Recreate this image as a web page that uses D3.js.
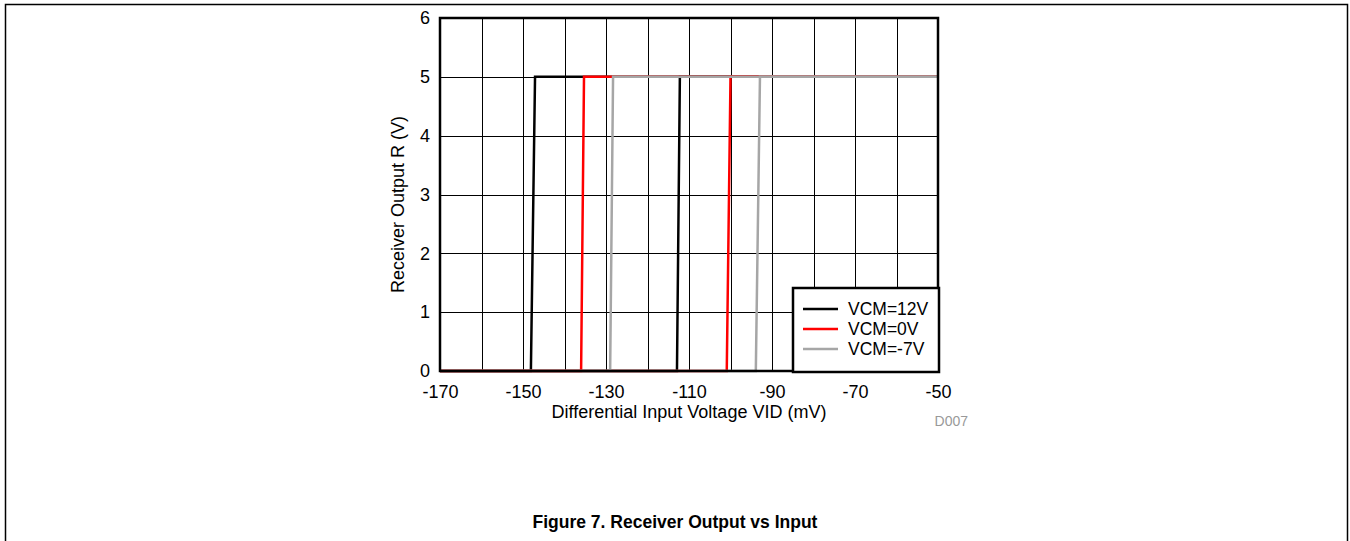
<!DOCTYPE html>
<html>
<head>
<meta charset="utf-8">
<script src="https://cdn.jsdelivr.net/npm/d3@7"></script>
<style>
  body { margin: 0; background: #fff; }
  svg { display: block; font-family: Arial, "Liberation Sans", sans-serif; }
</style>
</head>
<body>
<div id="chart"></div>
<script>
// x ticks (mV) and y ticks (V)
var xTicks = [-170, -150, -130, -110, -90, -70, -50];
var xGrid = d3.range(-170, -49, 10);
var yTicks = [0, 1, 2, 3, 4, 5, 6];

var seriesNames = ["VCM=12V", "VCM=0V", "VCM=-7V"];
var seriesColors = ["#000000", "#ff0000", "#a6a6a6"];

// each series: falling branch and rising branch (hysteresis sweep)
var vcm12Down = [[-170, 0], [-148.1, 0], [-147.1, 5], [-50, 5]];
var vcm12Up = [[-170, 0], [-112.9, 0], [-112.2, 5], [-50, 5]];
var vcm0Down = [[-170, 0], [-136.0, 0], [-135.3, 5], [-50, 5]];
var vcm0Up = [[-170, 0], [-100.9, 0], [-100.0, 5], [-50, 5]];
var vcm7Down = [[-170, 0], [-129.0, 0], [-128.3, 5], [-50, 5]];
var vcm7Up = [[-170, 0], [-93.9, 0], [-92.9, 5], [-50, 5]];

var series = [
  {name: seriesNames[0], color: seriesColors[0], branches: [vcm12Down, vcm12Up]},
  {name: seriesNames[1], color: seriesColors[1], branches: [vcm0Down, vcm0Up]},
  {name: seriesNames[2], color: seriesColors[2], branches: [vcm7Down, vcm7Up]}
];

var W = 1350, H = 541;
var margin = {top: 18, left: 440},
    width = 498,
    height = 353;

var svg = d3.select("#chart").append("svg")
  .attr("width", W)
  .attr("height", H);

// page frame
svg.append("path")
  .attr("d", "M5.5,541 L5.5,4.5 L1347.5,4.5 L1347.5,541")
  .attr("fill", "none")
  .attr("stroke", "#000")
  .attr("stroke-width", 1.5);

var g = svg.append("g")
  .attr("transform", "translate(" + margin.left + "," + margin.top + ")");

var xScale = d3.scaleLinear().domain([-170, -50]).range([0, width]);
var yScale = d3.scaleLinear().domain([0, 6]).range([height, 0]);

// grid
g.append("g")
  .selectAll("line")
  .data(xGrid)
  .enter()
  .append("line")
    .attr("x1", function (d) { return Math.round(xScale(d)) + 0.5; })
    .attr("x2", function (d) { return Math.round(xScale(d)) + 0.5; })
    .attr("y1", 0)
    .attr("y2", height)
    .attr("stroke", "#000")
    .attr("stroke-width", 1);

g.append("g")
  .selectAll("line")
  .data(yTicks)
  .enter()
  .append("line")
    .attr("x1", 0)
    .attr("x2", width)
    .attr("y1", function (d) { return Math.round(yScale(d)) + 0.5; })
    .attr("y2", function (d) { return Math.round(yScale(d)) + 0.5; })
    .attr("stroke", "#000")
    .attr("stroke-width", 1);

// data lines
var line = d3.line()
  .x(function (d) { return xScale(d[0]); })
  .y(function (d) { return yScale(d[1]); });

series.forEach(function (s) {
  g.append("g")
    .selectAll("path")
    .data(s.branches)
    .enter()
    .append("path")
      .attr("d", line)
      .attr("fill", "none")
      .attr("stroke", s.color)
      .attr("stroke-width", 2.5);
});

// plot frame
g.append("rect")
  .attr("x", 0)
  .attr("y", 0)
  .attr("width", width)
  .attr("height", height)
  .attr("fill", "none")
  .attr("stroke", "#000")
  .attr("stroke-width", 2.5);

// axes (labels only), plain hyphen for negatives
var fmt = function (d) { return String(d); };

var xAxis = g.append("g")
  .attr("transform", "translate(0," + height + ")")
  .call(d3.axisBottom(xScale).tickValues(xTicks).tickSize(0).tickPadding(14).tickFormat(fmt));
xAxis.select(".domain").remove();
xAxis.selectAll("text").attr("font-size", 18).attr("fill", "#000").attr("font-family", "Arial, 'Liberation Sans', sans-serif");

var yAxis = g.append("g")
  .call(d3.axisLeft(yScale).tickValues(yTicks).tickSize(0).tickPadding(10).tickFormat(fmt));
yAxis.select(".domain").remove();
yAxis.selectAll("text").attr("font-size", 18).attr("fill", "#000").attr("font-family", "Arial, 'Liberation Sans', sans-serif");

// axis titles
svg.append("text")
  .attr("x", margin.left + width / 2)
  .attr("y", 418)
  .attr("text-anchor", "middle")
  .attr("font-size", 18)
  .text("Differential Input Voltage VID (mV)");

svg.append("text")
  .attr("transform", "translate(404," + (margin.top + height / 2 + 10) + ") rotate(-90)")
  .attr("text-anchor", "middle")
  .attr("font-size", 18)
  .text("Receiver Output R (V)");

svg.append("text")
  .attr("x", 968)
  .attr("y", 426)
  .attr("text-anchor", "end")
  .attr("font-size", 14)
  .attr("fill", "#999")
  .text("D007");

// legend
var legend = svg.append("g").attr("transform", "translate(793,288)");
legend.append("rect")
  .attr("width", 146)
  .attr("height", 84)
  .attr("fill", "#fff")
  .attr("stroke", "#000")
  .attr("stroke-width", 2.5);

var items = legend.selectAll("g.item")
  .data(series)
  .enter()
  .append("g")
    .attr("class", "item")
    .attr("transform", function (d, i) { return "translate(0," + (21 + i * 20) + ")"; });
items.append("line")
  .attr("x1", 10)
  .attr("x2", 45)
  .attr("stroke", function (d) { return d.color; })
  .attr("stroke-width", 2.5);
items.append("text")
  .attr("x", 55)
  .attr("dy", "0.35em")
  .attr("font-size", 17.5)
  .text(function (d) { return d.name; });

// caption
svg.append("text")
  .attr("x", 675)
  .attr("y", 528)
  .attr("text-anchor", "middle")
  .attr("font-size", 17.5)
  .attr("font-weight", "bold")
  .text("Figure 7. Receiver Output vs Input");
</script>
</body>
</html>
